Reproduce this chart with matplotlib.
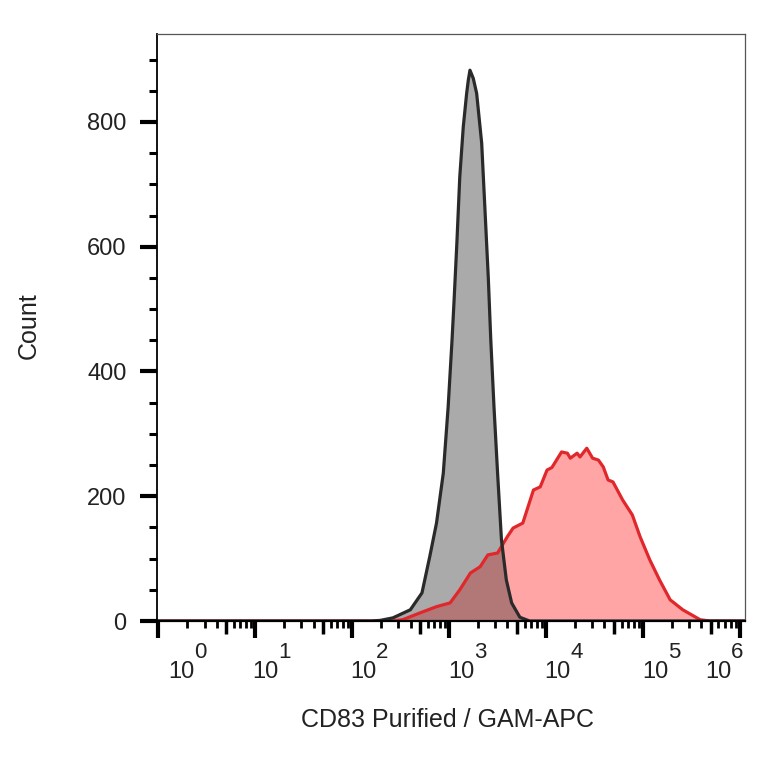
import matplotlib
matplotlib.use("Agg")
import matplotlib.pyplot as plt
import matplotlib.transforms as mtransforms
from matplotlib.ticker import FixedLocator, NullFormatter
import numpy as np

plt.rcParams['font.family'] = ['Liberation Sans', 'DejaVu Sans']

# isotype control (grey), log10 of intensity and count
gray_log = [-0.013, 2.20, 2.29, 2.42, 2.60, 2.72, 2.80, 2.87, 2.94, 2.99, 3.03, 3.05,
            3.08, 3.11, 3.146, 3.181, 3.198, 3.215, 3.249, 3.284, 3.336, 3.37, 3.404,
            3.43, 3.463, 3.50, 3.54, 3.59, 3.645, 3.73, 3.83, 6.052]
gray_count = [0, 0, 1, 5, 18, 45, 103, 157, 237, 343, 450, 510,
              606, 712, 792, 846, 867, 883, 870, 846, 766, 659, 551,
              450, 343, 237, 130, 66, 29, 6, 0, 0]

# CD83 stained sample (red)
red_log = [-0.013, 2.40, 2.52, 2.70, 2.87, 3.01, 3.11, 3.22, 3.32, 3.40, 3.50, 3.60,
           3.66, 3.76, 3.87, 3.94, 4.01, 4.06, 4.16, 4.22, 4.25, 4.32, 4.35, 4.42,
           4.48, 4.54, 4.59, 4.64, 4.69, 4.79, 4.89, 4.97, 5.07, 5.17, 5.28, 5.41,
           5.59, 5.69, 6.052]
red_count = [0, 0, 2, 13, 23, 29, 50, 77, 87, 106, 109, 135,
             149, 157, 210, 215, 242, 246, 271, 269, 261, 269, 263, 277,
             261, 258, 247, 226, 223, 194, 170, 135, 98, 66, 34, 18,
             2, 0, 0]

y_major = [0, 200, 400, 600, 800]
decades = [0, 1, 2, 3, 4, 5, 6]
x_label = "CD83 Purified / GAM-APC"
y_label = "Count"

gray_x = 10 ** np.array(gray_log)
red_x = 10 ** np.array(red_log)

fig = plt.figure(figsize=(7.64, 7.64), dpi=100)
ax = fig.add_axes([157 / 764, 1 - 621 / 764, 588 / 764, 587 / 764])

gray_fill = ax.fill_between(gray_x, gray_count, color='#aaaaaa', lw=0, zorder=1)
ax.fill_between(red_x, red_count, color='#ffa5a5', lw=0, zorder=1.1)
overlap = ax.fill_between(red_x, red_count, color='#b27878', lw=0, zorder=1.2)
overlap.set_clip_path(gray_fill.get_paths()[0], ax.transData)
ax.plot(red_x, red_count, color='#e0282c', lw=2.3, zorder=2, solid_joinstyle='round')
ax.plot(gray_x, gray_count, color='#2a2a2a', lw=2.3, zorder=2.1, solid_joinstyle='round')

ax.set_xscale('log')
ax.set_xlim(10 ** -0.013, 10 ** 6.052)
ax.set_ylim(0, 941)

# y axis ticks
ax.yaxis.set_major_locator(FixedLocator(y_major))
ax.yaxis.set_minor_locator(FixedLocator(np.arange(0, 941, 50)))
ax.tick_params(axis='y', which='major', length=12, width=3, color='black',
               labelsize=17, pad=10, labelcolor='#222222')
ax.tick_params(axis='y', which='minor', length=6, width=2.2, color='black')

# x axis ticks
ax.xaxis.set_major_locator(FixedLocator([10.0 ** d for d in decades]))
minors = [m * 10.0 ** d for d in decades[:-1] for m in (2, 3, 4, 6, 7, 8, 9)]
ax.xaxis.set_minor_locator(FixedLocator(minors))
ax.xaxis.set_major_formatter(NullFormatter())
ax.xaxis.set_minor_formatter(NullFormatter())
ax.tick_params(axis='x', which='major', length=12, width=3, color='black')
ax.tick_params(axis='x', which='minor', length=5, width=2, color='black')

sec = ax.secondary_xaxis('bottom')
sec.set_xticks([5 * 10.0 ** d for d in decades[:-1]])
sec.xaxis.set_major_formatter(NullFormatter())
sec.xaxis.set_minor_locator(FixedLocator([]))
sec.tick_params(axis='x', which='major', length=9, width=2.5, color='black')
sec.spines['bottom'].set_visible(False)

for side in ('top', 'right'):
    ax.spines[side].set_color('#555555')
    ax.spines[side].set_linewidth(0.9)
ax.spines['left'].set_linewidth(1.3)
ax.spines['bottom'].set_linewidth(1.6)

# decade labels "10" with raised exponent
label_shift = [10, -3, -2, -1, -2, -1, -35]
base = mtransforms.blended_transform_factory(ax.transData, ax.transAxes)
for d, dx in zip(decades, label_shift):
    t1 = base + mtransforms.ScaledTranslation(dx / 100, -57 / 100, fig.dpi_scale_trans)
    ax.text(10.0 ** d, 0, "10", transform=t1, fontsize=17, ha='left', va='baseline',
            color='#222222')
    t2 = base + mtransforms.ScaledTranslation((dx + 26) / 100, -37 / 100, fig.dpi_scale_trans)
    ax.text(10.0 ** d, 0, str(d), transform=t2, fontsize=16, ha='left', va='baseline',
            color='#222222')

fig.text(448 / 764, 1 - 720 / 764, x_label, fontsize=18, ha='center', va='center',
         color='#222222')
fig.text(29 / 764, 1 - 326 / 764, y_label, fontsize=18, ha='center', va='center',
         rotation=90, color='#222222')

fig.savefig('out.png', dpi=100)
